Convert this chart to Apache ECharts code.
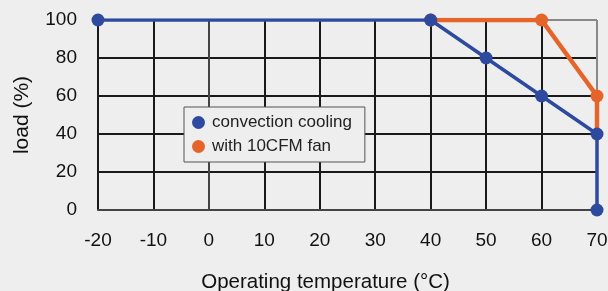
<!DOCTYPE html>
<html>
<head>
<meta charset="utf-8">
<script src="https://cdn.jsdelivr.net/npm/echarts@6/dist/echarts.min.js"></script>
<style>
  html, body { margin: 0; padding: 0; background: #eeeeee; }
  #chart { width: 608px; height: 291px; }
</style>
</head>
<body>
<div id="chart"></div>
<script>
// derating curves, temperature (°C) vs load (%)
var convTemp = [-20, 40, 50, 60, 70, 70];
var convLoad = [100, 100, 80, 60, 40, 0];
var fanTemp = [40, 60, 70, 70];
var fanLoad = [100, 100, 60, 40];
var fanSymbols = [true, true, true, false];

var convData = convTemp.map(function (t, i) { return [t, convLoad[i]]; });
var fanData = fanTemp.map(function (t, i) {
  return { value: [t, fanLoad[i]], symbolSize: fanSymbols[i] ? 13 : 0 };
});

// inner grid lines black, outer frame (top / right) grey
var xGridColors = ["#1a1a1a", "#1a1a1a", "#1a1a1a", "#1a1a1a", "#1a1a1a",
  "#1a1a1a", "#1a1a1a", "#1a1a1a", "#1a1a1a", "#888888"];
var yGridColors = ["#1a1a1a", "#1a1a1a", "#1a1a1a", "#1a1a1a", "#1a1a1a", "#888888"];

var option = {
  backgroundColor: "#eeeeee",
  textStyle: { fontFamily: "Liberation Sans, Arial, sans-serif" },
  grid: { left: 98, right: 11, top: 20, bottom: 81, outerBoundsMode: "none", containLabel: false },
  legend: {
    orient: "vertical",
    left: 184,
    top: 107,
    padding: [7, 13, 7, 8],
    itemGap: 7,
    itemWidth: 13,
    itemHeight: 13,
    borderColor: "#555",
    borderWidth: 1,
    backgroundColor: "#eeeeee",
    icon: "circle",
    textStyle: { fontSize: 17, color: "#222", padding: [0, 0, 0, 2] },
    data: ["convection cooling", "with 10CFM fan"]
  },
  xAxis: {
    type: "value",
    min: -20,
    max: 70,
    interval: 10,
    name: "Operating temperature (°C)",
    nameLocation: "middle",
    nameGap: 62,
    nameTextStyle: { fontSize: 20.5, color: "#111", padding: [0, 44, 0, 0] },
    axisLabel: { fontSize: 19, color: "#111", margin: 21 },
    axisTick: { show: false },
    axisLine: { show: true, lineStyle: { color: "#444", width: 2 } },
    splitLine: { show: true, lineStyle: { color: xGridColors, width: 2 } }
  },
  yAxis: {
    type: "value",
    min: 0,
    max: 100,
    interval: 20,
    name: "load (%)",
    nameLocation: "middle",
    nameGap: 65,
    nameTextStyle: { fontSize: 21, color: "#111" },
    axisLabel: { fontSize: 19, color: "#111", margin: 21 },
    axisTick: { show: false },
    axisLine: { show: true, lineStyle: { color: "#444", width: 2 } },
    splitLine: { show: true, lineStyle: { color: yGridColors, width: 2 } }
  },
  series: [
    {
      name: "with 10CFM fan",
      type: "line",
      z: 2,
      symbol: "circle",
      symbolSize: 13,
      itemStyle: { color: "#e5642a" },
      lineStyle: { color: "#e5642a", width: 4.5 },
      data: fanData
    },
    {
      name: "convection cooling",
      type: "line",
      z: 3,
      symbol: "circle",
      symbolSize: 13,
      itemStyle: { color: "#2e4a9e" },
      lineStyle: { color: "#2e4a9e", width: 3.5 },
      data: convData
    }
  ]
};

var chart = echarts.init(document.getElementById("chart"));
chart.setOption(option);
</script>
</body>
</html>
